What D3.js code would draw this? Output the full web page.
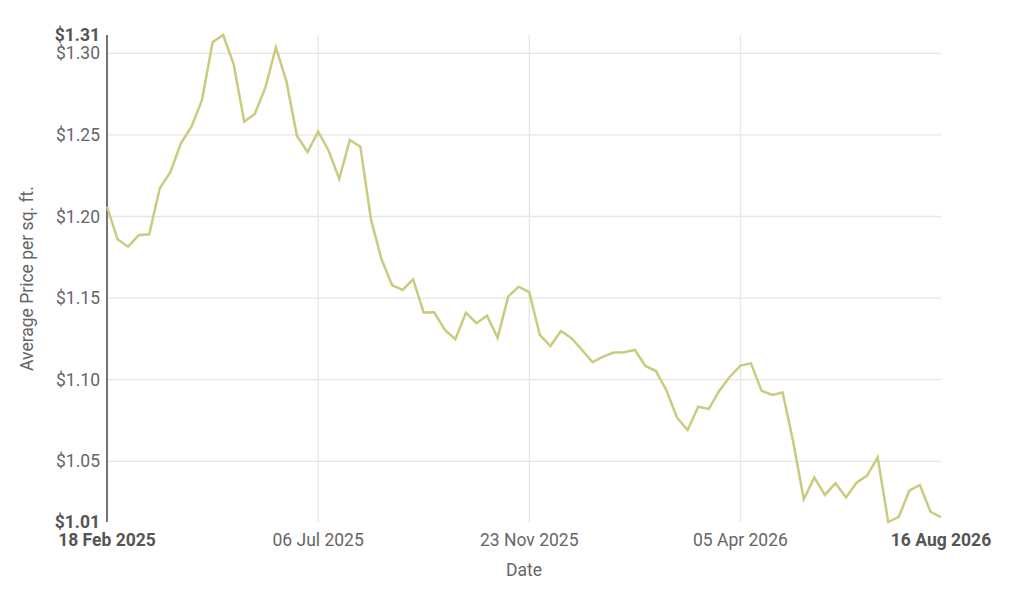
<!DOCTYPE html>
<html>
<head>
<meta charset="utf-8">
<script src="https://cdn.jsdelivr.net/npm/d3@7"></script>
<style>
  html, body { margin: 0; padding: 0; background: #fff; }
  svg { display: block; font-family: Roboto, "Noto Sans", sans-serif; }
</style>
</head>
<body>
<svg id="chart" width="1024" height="592"></svg>
<script>
// Weekly average price per sq. ft. (80 points, evenly spaced)
const prices = [
  1.2060, 1.1860, 1.1815, 1.1885, 1.1891, 1.2173, 1.2271, 1.2449, 1.2550, 1.2714,
  1.3067, 1.3112, 1.2933, 1.2581, 1.2628, 1.2789, 1.3036, 1.2826, 1.2493, 1.2395,
  1.2520, 1.2403, 1.2230, 1.2469, 1.2428, 1.1983, 1.1738, 1.1580, 1.1550, 1.1615,
  1.1411, 1.1413, 1.1305, 1.1248, 1.1411, 1.1346, 1.1392, 1.1257, 1.1509, 1.1570,
  1.1535, 1.1274, 1.1206, 1.1298, 1.1254, 1.1182, 1.1107, 1.1141, 1.1166, 1.1168,
  1.1182, 1.1084, 1.1053, 1.0933, 1.0767, 1.0692, 1.0835, 1.0820, 1.0933, 1.1018,
  1.1086, 1.1100, 1.0933, 1.0906, 1.0921, 1.0620, 1.0267, 1.0400, 1.0294, 1.0365,
  1.0279, 1.0369, 1.0412, 1.0524, 1.0128, 1.0160, 1.0320, 1.0355, 1.0191, 1.0157
];
const xTickIndex  = [0, 20, 40, 60, 79];
const xTickLabels = ["18 Feb 2025", "06 Jul 2025", "23 Nov 2025", "05 Apr 2026", "16 Aug 2026"];
const yTicks = [1.05, 1.10, 1.15, 1.20, 1.25, 1.30];

const svg = d3.select("#chart");
const mLeft = 107, mRight = 941, mTop = 35, mBottom = 522;
const fs = 17.5;

const x = d3.scaleLinear().domain([0, prices.length - 1]).range([mLeft, mRight]);
const yExt = d3.extent(prices);
const y = d3.scaleLinear().domain(yExt).range([mBottom, mTop]);

const fmt = v => "$" + v.toFixed(2);

// horizontal grid
svg.append("g").selectAll("line").data(yTicks).join("line")
  .attr("x1", mLeft).attr("x2", mRight)
  .attr("y1", d => y(d)).attr("y2", d => y(d))
  .attr("stroke", "#e6e6e6").attr("stroke-width", 1.3);

// vertical grid (interior ticks)
svg.append("g").selectAll("line").data(xTickIndex.slice(1, -1)).join("line")
  .attr("x1", d => x(d)).attr("x2", d => x(d))
  .attr("y1", mTop).attr("y2", mBottom)
  .attr("stroke", "#e6e6e6").attr("stroke-width", 1.3);

// y axis line
svg.append("line")
  .attr("x1", mLeft).attr("x2", mLeft).attr("y1", mTop).attr("y2", mBottom)
  .attr("stroke", "#444").attr("stroke-width", 1.5);

// y tick labels
svg.append("g").selectAll("text").data(yTicks).join("text")
  .attr("x", mLeft - 7).attr("y", d => y(d)).attr("dy", "0.35em")
  .attr("text-anchor", "end").attr("font-size", fs).attr("fill", "#666")
  .text(fmt);

// extent labels (bold)
svg.append("g").selectAll("text").data(yExt).join("text")
  .attr("x", mLeft - 7).attr("y", d => y(d)).attr("dy", "0.35em")
  .attr("text-anchor", "end").attr("font-size", fs).attr("font-weight", "bold")
  .attr("fill", "#555")
  .text(fmt);

// x tick labels
svg.append("g").selectAll("text").data(xTickIndex).join("text")
  .attr("x", d => x(d)).attr("y", 546)
  .attr("text-anchor", "middle").attr("font-size", fs)
  .attr("font-weight", (d, i) => (i === 0 || i === xTickIndex.length - 1) ? "bold" : "normal")
  .attr("fill", (d, i) => (i === 0 || i === xTickIndex.length - 1) ? "#555" : "#666")
  .text((d, i) => xTickLabels[i]);

// axis titles
svg.append("text")
  .attr("transform", `translate(33, ${(mTop + mBottom) / 2}) rotate(-90)`)
  .attr("text-anchor", "middle").attr("font-size", fs).attr("fill", "#666")
  .text("Average Price per sq. ft.");
svg.append("text")
  .attr("x", (mLeft + mRight) / 2).attr("y", 576)
  .attr("text-anchor", "middle").attr("font-size", fs).attr("fill", "#666")
  .text("Date");

// line
const line = d3.line().x((d, i) => x(i)).y(d => y(d));
svg.append("path").datum(prices)
  .attr("d", line).attr("fill", "none")
  .attr("stroke", "#cacb7e").attr("stroke-width", 2.5)
  .attr("stroke-linejoin", "miter");
</script>
</body>
</html>
